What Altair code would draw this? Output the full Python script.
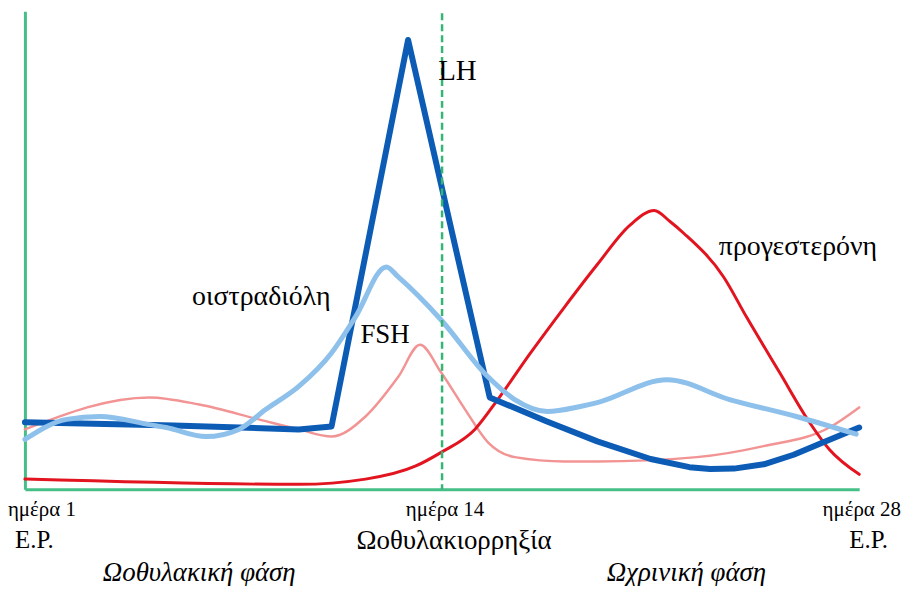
import altair as alt
import pandas as pd

# ---- data (x = day of cycle, y = relative level) ----
lh_day = [0, 5, 9.19, 10.29, 12.86, 15.60, 17.5, 19.21, 21.0, 22.3, 23.0, 23.8, 24.8, 25.8, 26.8, 28.0]
lh_val = [14.0, 13.3, 12.5, 13.1, 94.0, 19.2, 14.2, 10.0, 6.3, 4.6, 4.2, 4.3, 5.2, 7.2, 9.8, 12.9]

e2_day = [0, 1.40, 2.51, 4.18, 4.74, 6.08, 7.18, 8.09, 9.19, 10.29, 11.09, 12.13, 12.53,
          13.97, 15.54, 16.44, 17.54, 18.64, 19.21, 21.55, 23.65, 25.89, 27.9]
e2_val = [10.4, 14.6, 15.2, 13.5, 12.9, 11.0, 12.5, 16.7, 21.5, 28.5, 36.0, 46.5, 44.4,
          35.4, 23.5, 18.75, 16.25, 17.3, 18.1, 22.9, 18.75, 15.2, 11.5]

fsh_day = [0, 4.18, 5.85, 7.85, 9.19, 10.29, 11.43, 12.53, 13.26, 13.97, 14.77, 15.54,
           16.44, 18.11, 19.21, 22.55, 24.79, 27.0, 28.0]
fsh_val = [12.5, 19.2, 17.7, 14.6, 12.5, 11.0, 15.2, 23.5, 30.2, 24.4, 16.7, 9.8,
           6.7, 5.8, 5.8, 6.7, 9.0, 12.9, 17.1]

prog_day = [0, 9.19, 11.43, 13.10, 13.97, 15.10, 15.87, 16.97, 18.11, 19.21, 20.3, 21.12,
            21.65, 22.12, 23.45, 24.22, 25.33, 26.33, 27.0, 28.0]
prog_val = [2.1, 1.0, 2.1, 4.8, 7.7, 12.5, 18.75, 28.5, 38.1, 47.0, 55.2, 58.3,
            56.0, 53.5, 44.4, 36.0, 24.4, 14.0, 8.3, 3.1]

ovulation_day = [14]

# annotations: text, day, level, size
label_text = ["LH", "FSH", "οιστραδιόλη", "προγεστερόνη"]
label_day = [13.87, 11.26, 5.61, 23.29]
label_val = [85.6, 30.6, 38.5, 49.0]
label_size = [29, 27, 28, 28]

foot_text = ["ημέρα 1", "ημέρα 14", "ημέρα 28", "Ε.Ρ.", "Ωοθυλακιορρηξία", "Ε.Ρ.",
             "Ωοθυλακική φάση", "Ωχρινική φάση"]
foot_day = [-0.57, 14.1, 29.4, -0.33, 14.4, 28.97, 5.85, 22.2]
foot_val = [-5.6, -5.6, -5.6, -12.3, -12.5, -12.3, -19.2, -19.2]
foot_size = [21, 21, 21, 25, 27, 25, 27, 27]
foot_align = ["left", "center", "right", "left", "center", "right", "center", "center"]
foot_style = ["normal"] * 6 + ["italic", "italic"]

FONT = "Liberation Serif"
GREEN = "#45bf86"

xs = alt.Scale(domain=[0, 28], nice=False, zero=False)
ys = alt.Scale(domain=[0, 100], nice=False, zero=False)


def series(days, vals):
    return pd.DataFrame({"day": days, "level": vals})


def line(df, color, width, interp):
    return alt.Chart(df).mark_line(
        color=color, strokeWidth=width, interpolate=interp,
        strokeCap="round", strokeJoin="round", clip=False
    ).encode(
        x=alt.X("day:Q", scale=xs, axis=alt.Axis(
            title=None, labels=False, ticks=False, grid=False,
            domainColor=GREEN, domainWidth=3)),
        y=alt.Y("level:Q", scale=ys, axis=alt.Axis(
            title=None, labels=False, ticks=False, grid=False,
            domainColor=GREEN, domainWidth=3)),
    )


fsh = line(series(fsh_day, fsh_val), "#f39494", 2.5, "monotone")
prog = line(series(prog_day, prog_val), "#e2141f", 3, "monotone")
lh = line(series(lh_day, lh_val), "#0c5cb6", 6, "linear")
e2 = line(series(e2_day, e2_val), "#8dc0ea", 5, "monotone")

ovu = alt.Chart(pd.DataFrame({"day": ovulation_day})).mark_rule(
    color="#35b572", strokeWidth=2.5, strokeDash=[7, 4]
).encode(x=alt.X("day:Q", scale=xs), y=alt.value(2), y2=alt.value(480))

labels_df = pd.DataFrame({"t": label_text, "day": label_day, "level": label_val,
                          "size": label_size})
labels = alt.Chart(labels_df).mark_text(
    font=FONT, color="black", align="left", baseline="alphabetic"
).encode(
    x=alt.X("day:Q", scale=xs), y=alt.Y("level:Q", scale=ys),
    text="t:N", size=alt.Size("size:Q", scale=None, legend=None),
)

foot_layers = []
for t, d, v, s, a, st in zip(foot_text, foot_day, foot_val, foot_size, foot_align, foot_style):
    foot_layers.append(
        alt.Chart(pd.DataFrame({"t": [t], "day": [d], "level": [v]})).mark_text(
            font=FONT, color="black", align=a, baseline="alphabetic",
            fontSize=s, fontStyle=st
        ).encode(x=alt.X("day:Q", scale=xs), y=alt.Y("level:Q", scale=ys), text="t:N")
    )

chart = alt.layer(fsh, prog, lh, e2, ovu, labels, *foot_layers).properties(
    width=838, height=480,
    background="white",
    autosize=alt.AutoSizeParams(type="none"),
    padding={"left": 17, "top": 2, "right": 42, "bottom": 96},
).configure_view(stroke=None)

chart.save("out.html", embed_options={"renderer": "svg", "actions": False})
